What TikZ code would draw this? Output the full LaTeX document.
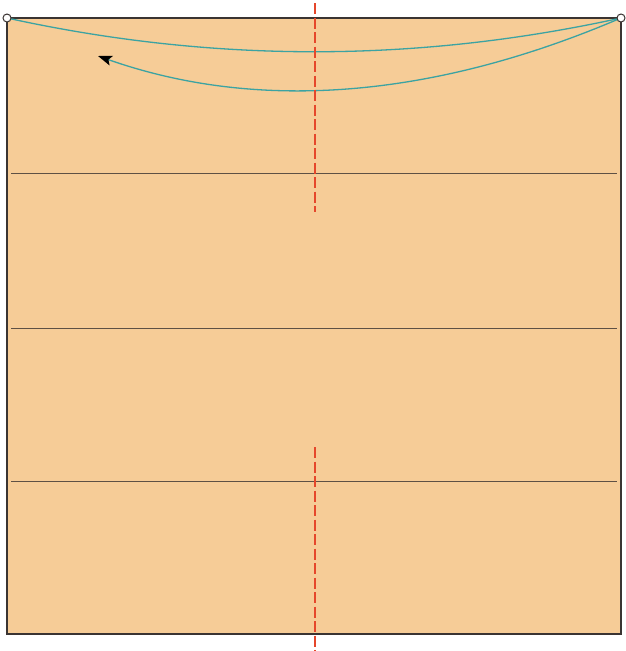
\documentclass[tikz,border=0pt]{standalone}
\usepackage{tikz}
\usepackage{xcolor}
\usetikzlibrary{positioning, arrows.meta}

\definecolor{paper}{HTML}{F6CC97}
\definecolor{edge}{HTML}{3A3432}
\definecolor{crease}{HTML}{5E5044}
\definecolor{foldpath}{HTML}{3CA3A2}
\definecolor{axisred}{HTML}{E5472B}

\begin{document}
\begin{tikzpicture}[
  x=1pt, y=-1pt,
  sheet/.style={draw=edge, fill=paper, line width=1.6pt},
  creaseline/.style={draw=crease, line width=0.8pt},
  pin/.style={circle, draw=edge, fill=white, line width=1pt,
    minimum size=8pt, inner sep=0pt},
  movepath/.style={foldpath, line width=1.3pt},
  moveto/.style={movepath, -{Stealth[black, length=14pt, width=10pt, inset=3pt]}},
  axis/.style={axisred, line width=1.8pt, dash pattern=on 11pt off 3.5pt},
]
\useasboundingbox (0,0) rectangle (625,651);

%% ── Sheet ────────────────────────────────────────────────────────────────────
\draw[sheet] (7,18) rectangle (621,634);

% horizontal creases
\coordinate (c1l) at (11,173);  \coordinate (c1r) at (617,173);
\coordinate (c2l) at (11,328);  \coordinate (c2r) at (617,328);
\coordinate (c3l) at (11,481);  \coordinate (c3r) at (617,481);
\draw[creaseline] (c1l) -- (c1r);
\draw[creaseline] (c2l) -- (c2r);
\draw[creaseline] (c3l) -- (c3r);

%% ── Corner pins and fold paths ───────────────────────────────────────────────
\coordinate (tipend) at (98,56);

\draw[movepath] (7,18) .. controls (212,63) and (416,63) .. (621,18);
\draw[moveto] (621,18) .. controls (432,99) and (257,112) .. (tipend);

\node[pin] (pinL) at (7,18) {};
\node[pin] (pinR) at (621,18) {};

%% ── Centre axis ──────────────────────────────────────────────────────────────
\coordinate (axTopA) at (315,3);
\coordinate (axTopB) at (315,212);
\coordinate (axBotA) at (315,447);
\coordinate (axBotB) at (315,651);
\draw[axis] (axTopA) -- (axTopB);
\draw[axis] (axBotA) -- (axBotB);

\end{tikzpicture}
\end{document}
